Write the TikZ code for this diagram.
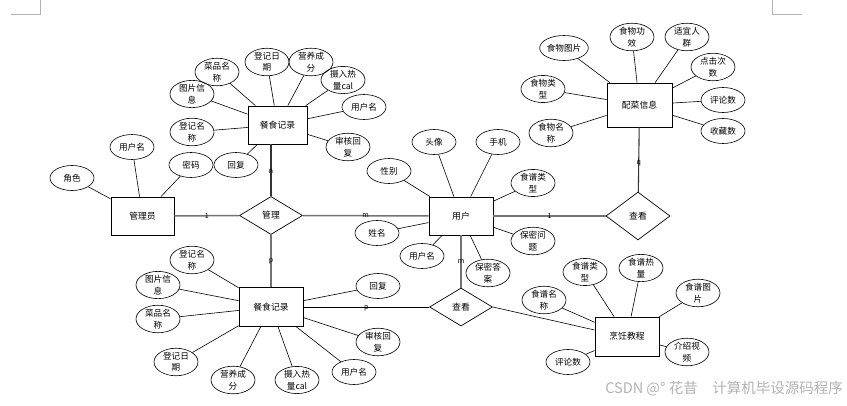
\documentclass[tikz,border=0pt]{standalone}
\usepackage{fontspec}
\setmainfont{Noto Sans CJK SC}
\usetikzlibrary{shapes.geometric}
\begin{document}
\begin{tikzpicture}[x=1pt,y=-1pt,
  ent/.style={draw,line width=0.8pt,inner sep=0pt,font=\fontsize{8.8}{10}\selectfont},
  attr/.style={draw,ellipse,line width=0.6pt,minimum width=44pt,minimum height=25pt,inner sep=0pt,align=center,font=\fontsize{8.6}{11.5}\selectfont},
  rel/.style={draw,diamond,line width=0.7pt,inner sep=0pt,minimum width=63pt,minimum height=38pt,font=\fontsize{8.8}{10}\selectfont},
  al/.style={line width=0.6pt},
  rl/.style={line width=1.5pt,black!55},
  rlk/.style={line width=1.1pt,black!80},
  card/.style={font=\fontsize{7}{7}\selectfont,inner sep=0pt},
  cornerline/.style={line width=0.6pt,black!30}]
\useasboundingbox (0,0) rectangle (847,405);
% corner marks
\draw[cornerline] (11,14) -- (40,14) -- (40,0);
\draw[cornerline] (772,0) -- (772,14) -- (802,14);

% entities
\node[ent,minimum width=59pt,minimum height=38pt] (r1) at (277.5,125) {餐食记录};
\node[ent,minimum width=63pt,minimum height=38pt] (adm) at (142.5,216) {管理员};
\node[ent,minimum width=64pt,minimum height=38pt] (usr) at (461,216) {用户};
\node[ent,minimum width=65pt,minimum height=44pt] (pc) at (639.5,105) {配菜信息};
\node[ent,minimum width=64pt,minimum height=39pt] (r2) at (271,307) {餐食记录};
\node[ent,minimum width=64pt,minimum height=39pt] (pr) at (627,336.5) {烹饪教程};

% relationships
\node[rel] (mg) at (271,215.5) {管理};
\node[rel,minimum width=64pt,minimum height=48pt] (v1) at (638,216) {查看};
\node[rel] (v2) at (461,307) {查看};

% attributes of top 餐食记录
\node[attr] (t1) at (217,72) {菜品名\\称};
\node[attr] (t2) at (192,94) {图片信\\息};
\node[attr] (t3) at (192,132) {登记名\\称};
\node[attr] (t4) at (267,62) {登记日\\期};
\node[attr] (t5) at (311,62) {营养成\\分};
\node[attr] (t6) at (343,80) {摄入热\\量cal};
\node[attr] (t7) at (364,107) {用户名};
\node[attr] (t8) at (348,147) {审核回\\复};
\node[attr] (t9) at (236,165) {回复};
\foreach \a in {t1,t2,t3,t4,t5,t6,t7,t8,t9} \draw[al] (\a) -- (r1);

% attributes of 管理员
\node[attr] (m1) at (72,178) {角色};
\node[attr] (m2) at (132,147) {用户名};
\node[attr] (m3) at (191,165) {密码};
\foreach \a in {m1,m2,m3} \draw[al] (\a) -- (adm);

% attributes of 用户
\node[attr] (u1) at (434,142) {头像};
\node[attr] (u2) at (498,142) {手机};
\node[attr] (u3) at (389,171) {性别};
\node[attr] (u4) at (533,183) {食谱类\\型};
\node[attr] (u5) at (377,233) {姓名};
\node[attr] (u6) at (422,256) {用户名};
\node[attr] (u7) at (533,241) {保密问\\题};
\node[attr] (u8) at (488,273) {保密答\\案};
\foreach \a in {u1,u2,u3,u4,u5,u6,u7,u8} \draw[al] (\a) -- (usr);

% attributes of 配菜信息
\node[attr] (p1) at (564,48) {食物图片};
\node[attr] (p2) at (632,37) {食物功\\效};
\node[attr] (p3) at (687,37) {适宜人\\群};
\node[attr] (p4) at (713,67) {点击次\\数};
\node[attr] (p5) at (543,89) {食物类\\型};
\node[attr] (p6) at (723,100) {评论数};
\node[attr] (p7) at (551,133) {食物名\\称};
\node[attr] (p8) at (723,131) {收藏数};
\foreach \a in {p1,p2,p3,p4,p5,p6,p7,p8} \draw[al] (\a) -- (pc);

% attributes of bottom 餐食记录
\node[attr] (b1) at (192,260) {登记名\\称};
\node[attr] (b2) at (158,285) {图片信\\息};
\node[attr] (b3) at (158,319) {菜品名\\称};
\node[attr] (b4) at (176,362) {登记日\\期};
\node[attr] (b5) at (233,380) {营养成\\分};
\node[attr] (b6) at (297,380) {摄入热\\量cal};
\node[attr] (b7) at (354,372) {用户名};
\node[attr] (b8) at (378,342) {审核回\\复};
\node[attr] (b9) at (378,286) {回复};
\foreach \a in {b1,b2,b3,b4,b5,b6,b7,b8,b9} \draw[al] (\a) -- (r2);

% attributes of 烹饪教程
\node[attr] (c1) at (544,300) {食谱名\\称};
\node[attr] (c2) at (585,272) {食谱类\\型};
\node[attr] (c3) at (641,268) {食谱热\\量};
\node[attr] (c4) at (698,293) {食谱图\\片};
\node[attr] (c5) at (687,352) {介绍视\\频};
\node[attr] (c6) at (568,362) {评论数};
\foreach \a in {c1,c2,c3,c4,c5,c6} \draw[al] (\a) -- (pr);

% relationship connectors
\draw[rl] (adm) -- node[card,text=black] {1} (mg);
\draw[rl] (mg) -- node[card,text=black] {m} (usr);
\draw[rl] (usr) -- node[card,text=black] {1} (v1);
\draw[rlk] (v1) -- node[card,text=black,pos=0.45] {q} (pc);
\draw[rlk] (mg.north) -- node[card,text=black,pos=0.48] {n} (mg.north |- r1.south);
\draw[rl] (mg.south) -- node[card,text=black] {p} (r2.north);
\draw[rl] (usr.south) -- node[card,text=black] {m} (v2.north);
\draw[al] (r2.east) -- node[card,text=black,yshift=-1pt] {p} (v2.west);
\draw[al] (v2.east) -- ([yshift=6.5pt]pr.west);

% watermark
\node[anchor=east,inner sep=0pt,font=\fontsize{14.5}{14.5}\selectfont,text=black!30] (wm) at (843,389) {CSDN @°\ 花昔\quad 计算机毕设源码程序};
\end{tikzpicture}
\end{document}
